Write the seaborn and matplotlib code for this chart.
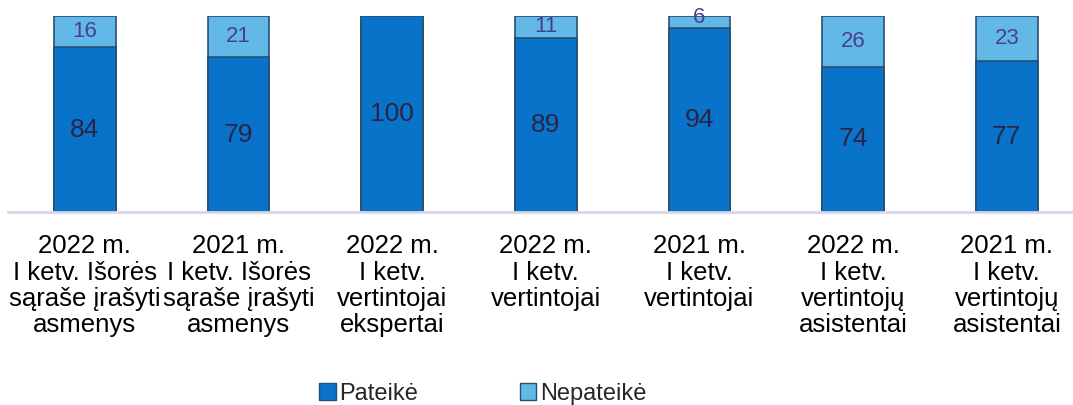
import matplotlib
matplotlib.use("Agg")
import matplotlib.pyplot as plt
import seaborn as sns
import pandas as pd
from matplotlib.patches import Patch

categories = [
    "2022 m.\nI ketv. Išorės\nsąraše įrašyti\nasmenys",
    "2021 m.\nI ketv. Išorės\nsąraše įrašyti\nasmenys",
    "2022 m.\nI ketv.\nvertintojai\nekspertai",
    "2022 m.\nI ketv.\nvertintojai",
    "2021 m.\nI ketv.\nvertintojai",
    "2022 m.\nI ketv.\nvertintojų\nasistentai",
    "2021 m.\nI ketv.\nvertintojų\nasistentai",
]
pateike = [84, 79, 100, 89, 94, 74, 77]
nepateike = [16, 21, 0, 11, 6, 26, 23]
series_names = ["Pateikė", "Nepateikė"]

sns.set_theme(style="white")
plt.rcParams["font.family"] = ["Liberation Sans", "DejaVu Sans"]

df = pd.DataFrame({"cat": categories, "pateike": pateike, "nepateike": nepateike})
df["total"] = df["pateike"] + df["nepateike"]

W, H = 1073, 405
fig = plt.figure(figsize=(W / 100, H / 100), dpi=100)
ax = fig.add_axes([8 / W, (H - 212) / H, (W - 8) / W, 196 / H])

c_bottom = "#0873c9"
c_top = "#62b9e8"
edge = "#27506f"

sns.barplot(data=df, x="cat", y="total", color=c_top, width=0.40,
            edgecolor=edge, linewidth=1.2, saturation=1, ax=ax)
sns.barplot(data=df, x="cat", y="pateike", color=c_bottom, width=0.40,
            edgecolor=edge, linewidth=1.2, saturation=1, ax=ax)

for i, (p, n) in enumerate(zip(pateike, nepateike)):
    ax.text(i, p / 2, f"{p}", ha="center", va="center", fontsize=19, color="#2b2446")
    if n > 0:
        ax.text(i, p + n / 2 + (2 if n < 8 else 0), f"{n}", ha="center", va="center",
                fontsize=16, color="#4b3f8c")

ax.set_ylim(0, 100)
ax.set_xlim(-0.5, -0.5 + (W - 8) / 153.67)
ax.set_xlabel("")
ax.set_ylabel("")
ax.set_yticks([])
ax.tick_params(axis="x", length=0, pad=16, labelsize=18.5)
for lbl in ax.get_xticklabels():
    lbl.set_linespacing(1.12)
    lbl.set_color("#000000")
for s in ["top", "right", "left"]:
    ax.spines[s].set_visible(False)
ax.spines["bottom"].set_color("#d9d6ea")
ax.spines["bottom"].set_linewidth(2)

handles = [Patch(facecolor=c_bottom, edgecolor=edge), Patch(facecolor=c_top, edgecolor=edge)]
fig.legend(handles, series_names, loc="center left", bbox_to_anchor=(298 / W, 1 - 394 / H),
           ncol=2, frameon=False, fontsize=17, handlelength=0.7, handleheight=0.7,
           handletextpad=0.15, columnspacing=4.3)

fig.savefig("out.png", dpi=100, facecolor="white")
